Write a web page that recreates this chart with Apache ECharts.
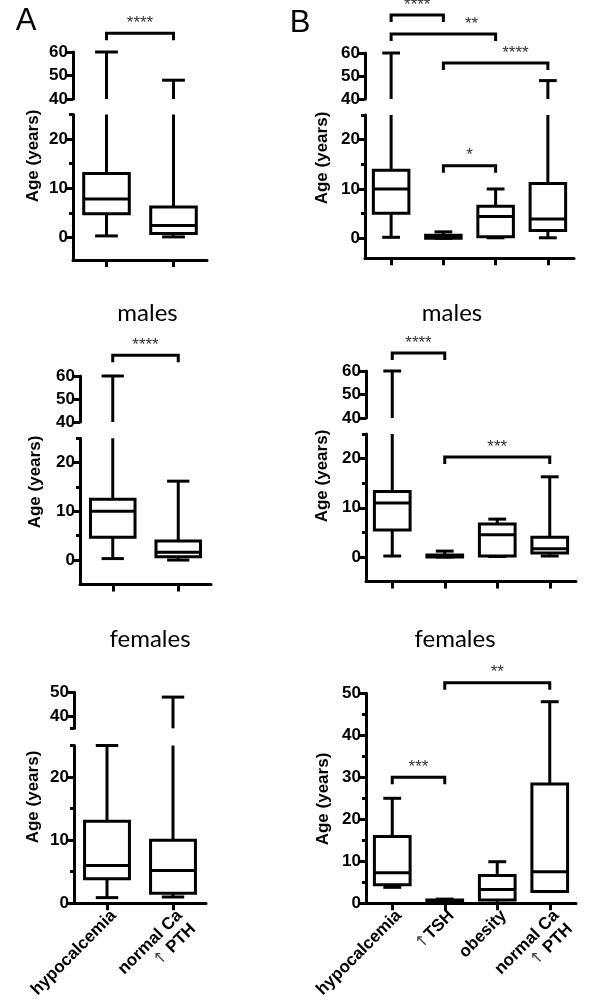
<!DOCTYPE html>
<html>
<head>
<meta charset="utf-8">
<script src="https://cdn.jsdelivr.net/npm/echarts@6/dist/echarts.min.js"></script>
<style>
  html, body { margin: 0; padding: 0; background: #fff; }
  #chart { width: 589px; height: 1008px; }
</style>
</head>
<body>
<div id="chart"></div>
<script>
const groupsA = ["hypocalcemia", "normal Ca\n↑ PTH"];
const groupsB = ["hypocalcemia", "↑TSH", "obesity", "normal Ca\n↑ PTH"];

// box stats per group: [min, Q1, median, Q3, max], age in years
const allA = [[0.3, 4.8, 7.8, 13.0, 60], [0.1, 0.8, 2.4, 6.2, 48]];
const allB = [[0.2, 5.1, 10, 13.8, 60], [0, 0, 0.2, 0.6, 1.3], [0.1, 0.3, 4.4, 6.5, 10], [0.1, 1.6, 3.9, 11.1, 48]];
const malesA = [[0.3, 4.7, 10, 12.5, 60], [0, 0.7, 1.6, 3.9, 16.2]];
const malesB = [[0.2, 5.5, 11, 13.3, 60], [0, 0, 0.1, 0.4, 1.2], [0.1, 0.2, 4.5, 6.7, 7.7], [0.2, 0.8, 1.7, 4.0, 16.3]];
const femalesA = [[0.9, 3.9, 6.0, 13.0, 25], [1.0, 1.6, 5.2, 10, 48]];
const femalesB = [[3.8, 4.4, 7.3, 15.9, 25], [0, 0.1, 0.5, 0.8, 1.0], [0, 0.8, 3.3, 6.6, 9.9], [2.8, 2.8, 7.5, 28.4, 48]];

// significance brackets: from/to group index, height in axis units, stars
const starsAllA = [{from: 0, to: 1, y: 68, text: "****", at: 0.5}];
const starsAllBHigh = [
  {from: 0, to: 1, y: 76.5, text: "****", at: 0.5},
  {from: 0, to: 2, y: 68.3, text: "**", at: 0.77},
  {from: 1, to: 3, y: 55.7, text: "****", at: 0.69},
];
const starsAllBLow = [{from: 1, to: 2, y: 14.7, text: "*", at: 0.5}];
const starsMalesA = [{from: 0, to: 1, y: 69, text: "****", at: 0.5}];
const starsMalesBHigh = [{from: 0, to: 1, y: 67.7, text: "****", at: 0.5}];
const starsMalesBLow = [{from: 1, to: 3, y: 20.3, text: "***", at: 0.5}];
const starsFemalesB = [
  {from: 0, to: 1, y: 30, text: "***", at: 0.5},
  {from: 1, to: 3, y: 52.5, text: "**", at: 0.5},
];

// y tick values
const ticksLow = [0, 10, 20];
const minorLow = [5, 15, 25];
const ticksHigh = [40, 50, 60];
const ticksHighF = [40, 50];
const minorHighF = [35];
const ticksFull = [0, 10, 20, 30, 40, 50];
const minorFull = [5, 15, 25, 35, 45];

const fontFamily = "Liberation Sans";

// broken axes: each panel is a stack of grids (upper segment first)
const panels = [
  {left: 73, width: 134, groups: groupsA, stats: allA, labels: false, segs: [
    {top: 52, height: 47, min: 40, max: 60, major: ticksHigh, minor: [], stars: starsAllA},
    {top: 114.5, height: 145.5, min: -4.6, max: 25, major: ticksLow, minor: minorLow, stars: []},
  ]},
  {left: 365, width: 209, groups: groupsB, stats: allB, labels: false, segs: [
    {top: 53, height: 46, min: 40, max: 60, major: ticksHigh, minor: [], stars: starsAllBHigh},
    {top: 115, height: 143.3, min: -4.06, max: 25, major: ticksLow, minor: minorLow, stars: starsAllBLow},
  ]},
  {left: 80, width: 131, groups: groupsA, stats: malesA, labels: false, segs: [
    {top: 376, height: 46, min: 40, max: 60, major: ticksHigh, minor: [], stars: starsMalesA},
    {top: 438.3, height: 146.1, min: -5, max: 25, major: ticksLow, minor: minorLow, stars: []},
  ]},
  {left: 366, width: 210, groups: groupsB, stats: malesB, labels: false, segs: [
    {top: 371, height: 47, min: 40, max: 60, major: ticksHigh, minor: [], stars: starsMalesBHigh},
    {top: 434, height: 147.6, min: -5, max: 25, major: ticksLow, minor: minorLow, stars: starsMalesBLow},
  ]},
  {left: 74, width: 132, groups: groupsA, stats: femalesA, labels: true, segs: [
    {top: 692.3, height: 36, min: 35, max: 50, major: ticksHighF, minor: minorHighF, stars: []},
    {top: 745.5, height: 157.8, min: 0, max: 25, major: ticksLow, minor: minorLow, stars: []},
  ]},
  {left: 366, width: 210, groups: groupsB, stats: femalesB, labels: true, segs: [
    {top: 693.3, height: 210, min: 0, max: 50, major: ticksFull, minor: minorFull, stars: starsFemalesB},
  ]},
];

const boxRenderer = (lo, hi) => (params, api) => {
  const i = api.value(0);
  const v = [1, 2, 3, 4, 5].map((d) => api.value(d));
  const cx = api.coord([i, lo])[0];
  const half = api.size([1, 0])[0] * 0.34;
  const yOf = (val) => api.coord([i, Math.min(hi, Math.max(lo, val))])[1];
  const within = (val) => val >= lo && val <= hi;
  const style = {stroke: "#000", lineWidth: 3, fill: "none"};
  const kids = [];
  const seg = (x1, y1, x2, y2) => kids.push({type: "line", shape: {x1, y1, x2, y2}, style});
  if (v[1] > lo && v[0] < hi) seg(cx, yOf(v[0]), cx, yOf(v[1]));
  if (v[4] > lo && v[3] < hi) seg(cx, yOf(v[3]), cx, yOf(v[4]));
  if (within(v[0])) seg(cx - half / 2, yOf(v[0]), cx + half / 2, yOf(v[0]));
  if (within(v[4])) seg(cx - half / 2, yOf(v[4]), cx + half / 2, yOf(v[4]));
  if (v[3] >= lo && v[1] <= hi) {
    const top = yOf(v[3]);
    const bottom = yOf(v[1]);
    kids.push({type: "rect", shape: {x: cx - half, y: top, width: 2 * half, height: bottom - top},
      style: {stroke: "#000", lineWidth: 3, fill: "#fff"}});
  }
  if (within(v[2])) seg(cx - half, yOf(v[2]), cx + half, yOf(v[2]));
  return {type: "group", children: kids};
};

const starRenderer = (list) => (params, api) => {
  const b = list[params.dataIndex];
  const p1 = api.coord([api.value(0), api.value(2)]);
  const p2 = api.coord([api.value(1), api.value(2)]);
  const leg = 7;
  return {type: "group", children: [
    {type: "polyline", shape: {points: [[p1[0], p1[1] + leg], p1, p2, [p2[0], p2[1] + leg]]},
      style: {stroke: "#000", lineWidth: 3, fill: "none"}},
    {type: "text", x: p1[0] + (p2[0] - p1[0]) * b.at, y: p1[1] - 10,
      style: {text: b.text, fill: "#333", fontSize: 17, fontFamily,
        align: "center", verticalAlign: "middle", textAlign: "center", textVerticalAlign: "middle"}},
  ]};
};

const grid = [];
const xAxis = [];
const yAxis = [];
const series = [];

panels.forEach((p) => {
  p.segs.forEach((s, k) => {
    const g = grid.length;
    const isBase = k === p.segs.length - 1;
    grid.push({left: p.left, width: p.width, top: s.top, height: s.height});
    xAxis.push({
      type: "category", gridIndex: g, data: p.groups, show: isBase, boundaryGap: true,
      axisLine: {show: true, onZero: false, lineStyle: {color: "#000", width: 3}},
      axisTick: {show: true, alignWithLabel: true, length: 7, lineStyle: {color: "#000", width: 3}},
      axisLabel: {
        show: isBase && p.labels, interval: 0, rotate: 45, margin: 3, verticalAlign: "top",
        color: "#000", fontSize: 17, fontWeight: "bold", fontFamily, lineHeight: 19,
        formatter: (v) => v.replace("↑", "{up|↑}"),
        rich: {up: {fontSize: 16, fontWeight: "normal", fontFamily: "DejaVu Sans", color: "#444", lineHeight: 19}},
      },
      splitLine: {show: false},
    });
    const yi = yAxis.length;
    yAxis.push({
      type: "value", gridIndex: g, min: s.min, max: s.max, position: "left",
      axisLine: {show: true, onZero: false, lineStyle: {color: "#000", width: 3}},
      axisTick: {show: true, length: 7, customValues: s.major, lineStyle: {color: "#000", width: 3}},
      axisLabel: {show: true, customValues: s.major, margin: 5, color: "#000",
        fontSize: 17, fontWeight: "bold", fontFamily},
      splitLine: {show: false},
    });
    if (s.minor.length) {
      yAxis.push({
        type: "value", gridIndex: g, min: s.min, max: s.max, position: "left", offset: 0,
        axisLine: {show: false},
        axisTick: {show: true, length: 4, customValues: s.minor, lineStyle: {color: "#000", width: 3}},
        axisLabel: {show: false},
        splitLine: {show: false},
      });
    }
    series.push({
      type: "custom", xAxisIndex: g, yAxisIndex: yi, silent: true,
      renderItem: boxRenderer(s.min, s.max),
      data: p.stats.map((v, i) => [i].concat(v)),
    });
    if (s.stars.length) {
      series.push({
        type: "custom", xAxisIndex: g, yAxisIndex: yi, silent: true,
        renderItem: starRenderer(s.stars),
        data: s.stars.map((b) => [b.from, b.to, b.y]),
      });
    }
  });
});

const textEl = (text, x, y, font, rotation) => ({
  type: "text", x, y, rotation: rotation || 0,
  style: {text, font, fill: "#000", textAlign: "center", textVerticalAlign: "middle",
    align: "center", verticalAlign: "middle"},
});
const nameFont = "bold 17px \"Liberation Sans\"";
const titleFont = "24px Lato";

const graphic = [
  textEl("A", 26, 21, "31px \"Liberation Sans\""),
  textEl("B", 300, 23, "31px \"Liberation Sans\""),
  textEl("males", 147.5, 313, titleFont),
  textEl("males", 452, 313, titleFont),
  textEl("females", 150, 639, titleFont),
  textEl("females", 455, 639, titleFont),
  textEl("Age (years)", 33, 156, nameFont, Math.PI / 2),
  textEl("Age (years)", 322.5, 158, nameFont, Math.PI / 2),
  textEl("Age (years)", 35, 482, nameFont, Math.PI / 2),
  textEl("Age (years)", 322.5, 476, nameFont, Math.PI / 2),
  textEl("Age (years)", 33.5, 797, nameFont, Math.PI / 2),
  textEl("Age (years)", 323, 799, nameFont, Math.PI / 2),
];

const chart = echarts.init(document.getElementById("chart"));
chart.setOption({
  animation: false,
  backgroundColor: "#fff",
  textStyle: {fontFamily},
  grid, xAxis, yAxis, series, graphic,
});
</script>
</body>
</html>
